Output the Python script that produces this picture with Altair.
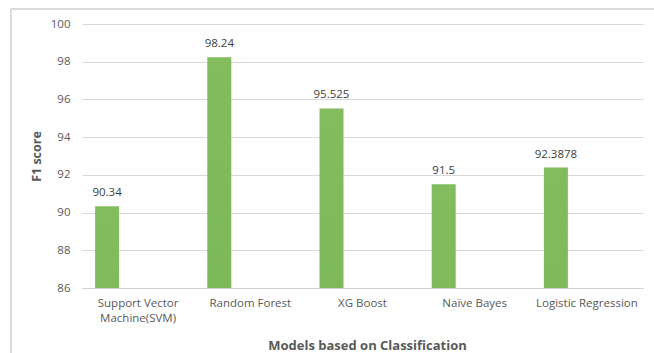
import altair as alt
import pandas as pd

# F1 scores of the classification models
models = [
    "Support Vector Machine(SVM)",
    "Random Forest",
    "XG Boost",
    "Naïve Bayes",
    "Logistic Regression",
]
f1_scores = [90.34, 98.24, 95.525, 91.5, 92.3878]
score_labels = ["90.34", "98.24", "95.525", "91.5", "92.3878"]
y_ticks = [86, 88, 90, 92, 94, 96, 98, 100]

df = pd.DataFrame({"model": models, "f1": f1_scores, "label": score_labels})

FONT = "Open Sans"
GRAY = "#595959"

x_enc = alt.X(
    "model:N",
    sort=models,
    scale=alt.Scale(paddingInner=0, paddingOuter=0),
    axis=alt.Axis(
        title="Models based on Classification",
        titleFont=FONT,
        titleFontSize=13,
        titleFontWeight="bold",
        titleColor=GRAY,
        titleX=285,
        titleY=57,
        titleBaseline="middle",
        labelFont=FONT,
        labelFontSize=11.5,
        labelColor=GRAY,
        labelAngle=0,
        labelPadding=9,
        labelLineHeight=15,
        labelLimit=200,
        labelExpr="datum.value == 'Support Vector Machine(SVM)' ? ['Support Vector', 'Machine(SVM)'] : datum.value",
        ticks=False,
        domainColor="#d0d0d0",
        domainWidth=1,
        grid=False,
    ),
)

y_enc = alt.Y(
    "f1:Q",
    scale=alt.Scale(domain=[86, 100], nice=False, zero=False),
    axis=alt.Axis(
        title="F1 score",
        titleFont=FONT,
        titleFontSize=12.5,
        titleFontWeight="bold",
        titleColor=GRAY,
        titleX=-46,
        titleY=132,
        titleAngle=270,
        titleAlign="center",
        titleBaseline="middle",
        values=y_ticks,
        labelOverlap=False,
        labelFont=FONT,
        labelFontSize=11.5,
        labelColor=GRAY,
        labelPadding=12,
        ticks=False,
        domain=False,
        grid=True,
        gridColor="#d9d9d9",
        gridWidth=1,
    ),
)

bars = alt.Chart(df).mark_bar(
    width=24,
    xOffset=-31,
    clip=True,
    color=alt.Gradient(
        gradient="linear",
        x1=0, x2=0, y1=0, y2=1,
        stops=[
            alt.GradientStop(color="#82bc5f", offset=0),
            alt.GradientStop(color="#589a2f", offset=1),
        ],
    ),
).encode(x=x_enc, y=y_enc)

labels = alt.Chart(df).mark_text(
    dx=-31,
    dy=-13,
    baseline="middle",
    font=FONT,
    fontSize=11.5,
    color="#404040",
).encode(x=x_enc, y=y_enc, text="label:N")

# light frame around the chart area
frame = alt.Chart(df).mark_rect(
    fill=None, stroke="#d9d9d9", strokeWidth=1
).encode(
    x=alt.value(-71), x2=alt.value(620), y=alt.value(-15), y2=alt.value(400)
)

chart = (
    alt.layer(frame, bars, labels)
    .properties(
        width=561,
        height=264,
        padding={"left": 82, "top": 24, "right": 11, "bottom": 65},
        autosize=alt.AutoSizeParams(type="none"),
        background="white",
    )
    .configure_view(stroke=None)
)

chart.save("out.html", embed_options={"renderer": "svg", "actions": False})
